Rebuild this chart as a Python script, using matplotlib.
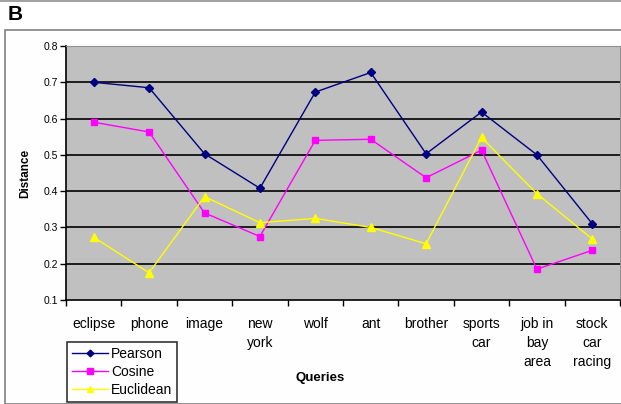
import matplotlib
matplotlib.use("Agg")
import matplotlib.pyplot as plt
from matplotlib.lines import Line2D
from matplotlib.patches import Rectangle

plt.rcParams['font.family'] = ['Liberation Sans', 'DejaVu Sans']

categories = ["eclipse", "phone", "image", "new\nyork", "wolf", "ant", "brother",
              "sports\ncar", "job in\nbay\narea", "stock\ncar\nracing"]
pearson = [0.70, 0.685, 0.503, 0.408, 0.673, 0.727, 0.503, 0.618, 0.50, 0.31]
cosine = [0.59, 0.563, 0.34, 0.275, 0.54, 0.543, 0.437, 0.513, 0.185, 0.237]
euclidean = [0.273, 0.175, 0.385, 0.313, 0.325, 0.30, 0.255, 0.548, 0.393, 0.268]
yticks = [0.1, 0.2, 0.3, 0.4, 0.5, 0.6, 0.7, 0.8]

W, H = 621, 404
fig = plt.figure(figsize=(W / 100, H / 100), dpi=100)
fig.patch.set_facecolor("white")

# outer chart frame
fig.add_artist(Rectangle((5 / W, 0), 1, 1 - 30 / H, transform=fig.transFigure,
                         facecolor="#FDFEFD", edgecolor="#808080", lw=1.2, zorder=-10))
fig.add_artist(Line2D([0, 1], [1 - 1 / H, 1 - 1 / H], transform=fig.transFigure,
                      color="#909090", lw=1.2, zorder=-10))
fig.text(8 / W, 1 - 15 / H, "B", fontsize=15, fontweight="bold", va="center", ha="left")

ax = fig.add_axes([66 / W, 1 - 300 / H, (620 - 66) / W, (300 - 46) / H])
ax.set_facecolor("#C0C0C0")
x = list(range(len(categories)))
ax.plot(x, pearson, color="#000080", marker="D", ms=3.8, lw=1, label="Pearson", zorder=3)
ax.plot(x, cosine, color="#FF00FF", marker="s", ms=4.5, lw=1, label="Cosine", zorder=3)
ax.plot(x, euclidean, color="#FFFF00", marker="^", ms=5.5, lw=1, label="Euclidean", zorder=3)

ax.set_xlim(-0.5, len(categories) - 0.5)
ax.set_ylim(0.1, 0.8)
ax.set_yticks(yticks)
ax.set_yticklabels([f"{v:.1f}" for v in yticks], fontsize=7.5)
for v in yticks[1:]:
    ax.axhline(v, color="black", lw=1.2, zorder=1)
ax.set_xticks(x)
ax.set_xticklabels(categories, fontsize=10, linespacing=1.45, va="top")
ax.set_xticks([i - 0.5 for i in range(len(categories) + 1)], minor=True)
ax.tick_params(axis="x", which="major", length=0, pad=12)
ax.tick_params(axis="x", which="minor", length=4, color="black", width=1)
ax.tick_params(axis="y", length=4, color="black", width=1, pad=2)
for s in ["top", "right"]:
    ax.spines[s].set_color("#909090")
for s in ["left", "bottom"]:
    ax.spines[s].set_color("black")
    ax.spines[s].set_linewidth(1.2)

fig.text(25 / W, 1 - 173 / H, "Distance", rotation=90, fontsize=8.5, fontweight="bold",
         ha="center", va="center")
fig.text(320 / W, 1 - 378 / H, "Queries", fontsize=9.5, fontweight="bold",
         ha="center", va="center")

leg = fig.legend(loc="upper left", bbox_to_anchor=(67 / W, 1 - 342 / H), fontsize=10,
                 frameon=True, fancybox=False, edgecolor="black", facecolor="white",
                 borderpad=0.35, labelspacing=0.3, handlelength=2.6, handletextpad=0.2,
                 borderaxespad=0, markerscale=0.9)
leg.get_frame().set_linewidth(1.2)

fig.savefig("out.png", dpi=100)
